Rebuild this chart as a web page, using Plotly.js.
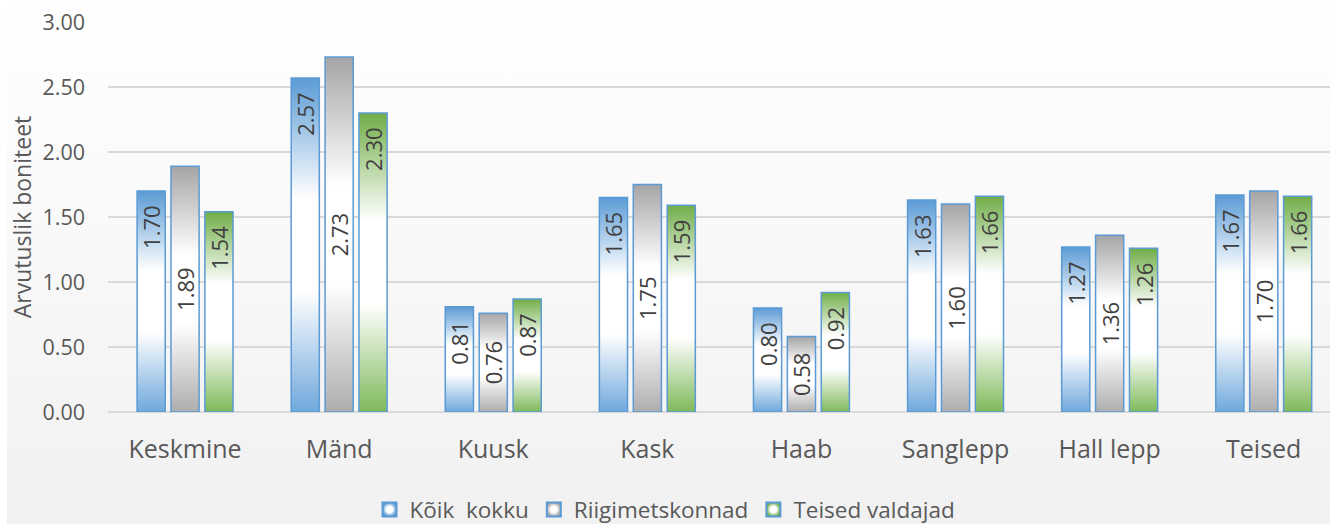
<!DOCTYPE html>
<html>
<head>
<meta charset="utf-8">
<script src="https://cdn.plot.ly/plotly-3.0.1.min.js"></script>
<style>
  html, body { margin: 0; padding: 0; }
  body {
    width: 1330px; height: 524px; overflow: hidden;
    background: linear-gradient(to right, #ffffff 7px, rgba(255,255,255,0) 7px),
                linear-gradient(to bottom, #ffffff 0%, #f1f1f1 100%);
  }
  #chart { width: 1330px; height: 524px; }
</style>
</head>
<body>
<div id="chart"></div>
<script>
// ---- data ----
const categories = ['Keskmine', 'Mänd', 'Kuusk', 'Kask', 'Haab', 'Sanglepp', 'Hall lepp', 'Teised'];
const seriesNames = ['Kõik\u00a0 kokku', 'Riigimetskonnad', 'Teised valdajad'];
const koikKokku = [1.70, 2.57, 0.81, 1.65, 0.80, 1.63, 1.27, 1.67];
const riigimetskonnad = [1.89, 2.73, 0.76, 1.75, 0.58, 1.60, 1.36, 1.70];
const teisedValdajad = [1.54, 2.30, 0.87, 1.59, 0.92, 1.66, 1.26, 1.66];
const yTicks = [0, 0.5, 1, 1.5, 2, 2.5, 3];

const FONT = 'Open Sans, sans-serif';
const TXT = '#595959';
const colors = ['#5b9bd5', '#a5a5a5', '#70ad47'];
const bottoms = ['#6fa8dc', '#adadad', '#7fb95a'];

function barTrace(name, y, color, anchor, tmpl) {
  return {
    type: 'bar', name: name, x: categories, y: y,
    marker: { color: color, line: { color: '#5b9bd5', width: 1.5 } },
    texttemplate: tmpl,
    textposition: 'inside',
    insidetextanchor: anchor,
    textangle: -90,
    constraintext: 'none',
    textfont: { family: FONT, size: 22, color: '#404040' },
    hoverinfo: 'x+y'
  };
}

const pad = '%{y:.2f}\u00a0\u00a0';
const data = [
  barTrace(seriesNames[0], koikKokku, colors[0], 'end', pad),
  barTrace(seriesNames[1], riigimetskonnad, colors[1], 'middle', '%{y:.2f}'),
  barTrace(seriesNames[2], teisedValdajad, colors[2], 'end', pad)
];

const layout = {
  width: 1330, height: 524,
  margin: { l: 108, r: 0, t: 22, b: 112 },
  paper_bgcolor: 'rgba(0,0,0,0)',
  plot_bgcolor: 'rgba(0,0,0,0)',
  font: { family: FONT, color: TXT },
  barmode: 'group',
  bargap: 0.34,
  bargroupgap: 0.17,
  showlegend: true,
  legend: {
    orientation: 'h',
    x: 0.5, xanchor: 'center', xref: 'container',
    y: 0.027, yanchor: 'middle', yref: 'container',
    font: { family: FONT, size: 22.5, color: TXT },
    traceorder: 'normal',
    itemwidth: 30
  },
  xaxis: {
    range: [-0.5, 7.43],
    showgrid: false, showline: false, zeroline: false,
    ticks: '',
    tickfont: { family: FONT, size: 25, color: TXT },
    ticklabelstandoff: 20,
    fixedrange: true
  },
  yaxis: {
    range: [0, 3],
    tickvals: yTicks,
    tickformat: '.2f',
    showgrid: true, gridcolor: '#d9d9d9', gridwidth: 1.5,
    zeroline: true, zerolinecolor: '#d9d9d9', zerolinewidth: 1.5,
    showline: false, ticks: '',
    tickfont: { family: FONT, size: 21.5, color: TXT },
    ticklabelstandoff: 22,
    title: { text: 'Arvutuslik boniteet', font: { family: FONT, size: 23, color: TXT }, standoff: 4 },
    fixedrange: true
  }
};

const gd = document.getElementById('chart');
Plotly.newPlot(gd, data, layout, { displayModeBar: false, staticPlot: true }).then(function () {
  const NS = 'http://www.w3.org/2000/svg';
  const svg = gd.querySelector('.main-svg');
  let defs = svg.querySelector('defs');
  if (!defs) { defs = document.createElementNS(NS, 'defs'); svg.insertBefore(defs, svg.firstChild); }
  colors.forEach(function (c, i) {
    const lg = document.createElementNS(NS, 'linearGradient');
    lg.setAttribute('id', 'barGrad' + i);
    lg.setAttribute('x1', '0'); lg.setAttribute('y1', '0');
    lg.setAttribute('x2', '0'); lg.setAttribute('y2', '1');
    [[0, c], [0.36, '#ffffff'], [0.64, '#ffffff'], [1, bottoms[i]]].forEach(function (s) {
      const st = document.createElementNS(NS, 'stop');
      st.setAttribute('offset', s[0]);
      st.setAttribute('stop-color', s[1]);
      lg.appendChild(st);
    });
    defs.appendChild(lg);
    const rg = document.createElementNS(NS, 'radialGradient');
    rg.setAttribute('id', 'legGrad' + i);
    [[0, '#ffffff'], [0.45, '#ffffff'], [1, c]].forEach(function (s) {
      const st = document.createElementNS(NS, 'stop');
      st.setAttribute('offset', s[0]);
      st.setAttribute('stop-color', s[1]);
      rg.appendChild(st);
    });
    defs.appendChild(rg);
  });
  const traces = gd.querySelectorAll('.barlayer .trace');
  traces.forEach(function (t, i) {
    t.querySelectorAll('.point path').forEach(function (p) { p.style.fill = 'url(#barGrad' + i + ')'; });
  });
  const legs = gd.querySelectorAll('.legend .traces');
  legs.forEach(function (t, i) {
    t.querySelectorAll('.legendpoints path').forEach(function (p) {
      p.style.fill = 'url(#legGrad' + i + ')';
      p.style.stroke = '#5b9bd5';
      p.style.strokeWidth = '2px';
      p.setAttribute('d', 'M7,7H-7V-7H7Z');
    });
  });
});
</script>
</body>
</html>
